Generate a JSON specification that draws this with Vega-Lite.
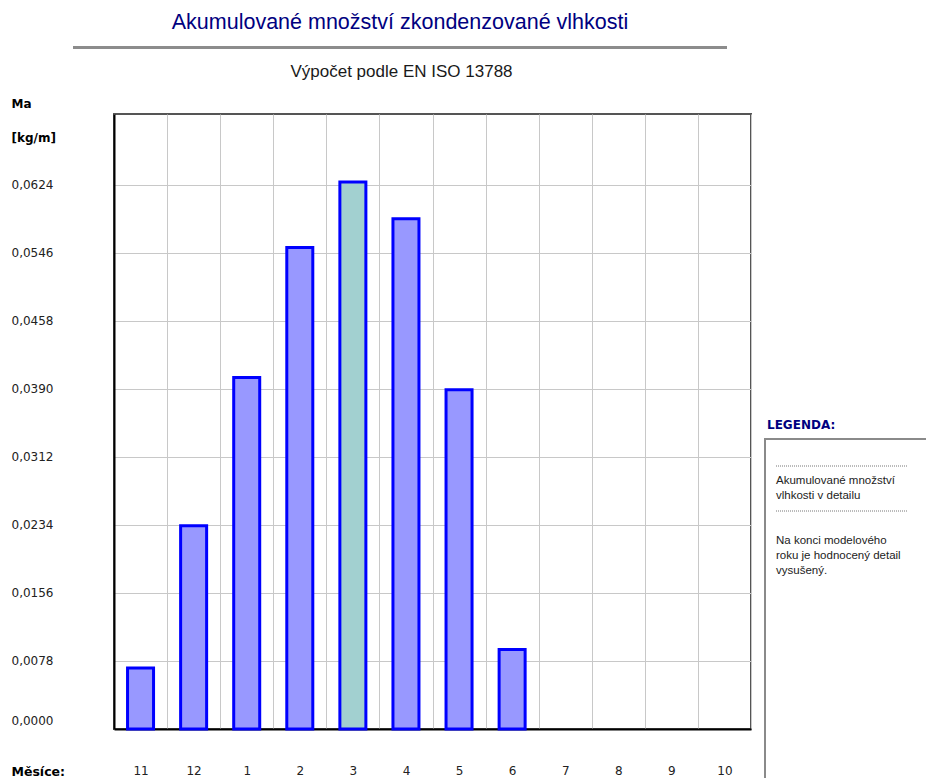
{
  "$schema": "https://vega.github.io/schema/vega-lite/v6.json",
  "background": "white",
  "padding": {"left": 9, "top": 10, "right": 0, "bottom": 0},
  "config": {"view": {"stroke": null}, "font": "Liberation Sans"},
  "datasets": {
    "bars": [
      {"mesic": "11", "ma": 0.0070, "typ": "a"},
      {"mesic": "12", "ma": 0.0233, "typ": "a"},
      {"mesic": "1", "ma": 0.0403, "typ": "a"},
      {"mesic": "2", "ma": 0.0552, "typ": "a"},
      {"mesic": "3", "ma": 0.0627, "typ": "b"},
      {"mesic": "4", "ma": 0.0585, "typ": "a"},
      {"mesic": "5", "ma": 0.0389, "typ": "a"},
      {"mesic": "6", "ma": 0.0091, "typ": "a"},
      {"mesic": "7", "ma": 0, "typ": "a"},
      {"mesic": "8", "ma": 0, "typ": "a"},
      {"mesic": "9", "ma": 0, "typ": "a"},
      {"mesic": "10", "ma": 0, "typ": "a"}
    ],
    "legenda": [
      {"row": 0, "kind": "sep", "text": ""},
      {"row": 1, "kind": "text", "text": "Akumulované množství"},
      {"row": 2, "kind": "text", "text": "vlhkosti v detailu"},
      {"row": 3, "kind": "sep", "text": ""},
      {"row": 5, "kind": "text", "text": "Na konci modelového"},
      {"row": 6, "kind": "text", "text": "roku je hodnocený detail"},
      {"row": 7, "kind": "text", "text": "vysušený."}
    ]
  },
  "spacing": 13,
  "vconcat": [
    {
      "spacing": 0,
      "hconcat": [
        {"width": 64, "height": 1, "data": {"values": []}, "mark": {"type": "point"}, "encoding": {}},
        {
          "width": 652, "height": 1,
          "data": {"values": []},
          "view": {"stroke": "#8c8c8c", "strokeWidth": 2},
          "title": {"text": "Akumulované množství zkondenzované vlhkosti", "anchor": "middle", "frame": "group", "offset": -3, "baseline": "alphabetic", "font": "Liberation Sans", "fontSize": 21.5, "fontWeight": "normal", "color": "#000080"},
          "mark": {"type": "point"},
          "encoding": {}
        }
      ]
    },
    {
      "spacing": 0,
      "hconcat": [
        {"width": 1, "height": 1, "data": {"values": []}, "mark": {"type": "point"}, "encoding": {}},
        {
          "spacing": 12,
          "hconcat": [
            {
              "width": 637, "height": 615,
              "data": {"name": "bars"},
              "view": {"stroke": "#555555", "strokeWidth": 2},
              "title": {"text": "Výpočet podle EN ISO 13788", "anchor": "middle", "frame": "group", "dx": -31, "offset": 3, "baseline": "alphabetic", "font": "Liberation Sans", "fontSize": 17, "fontWeight": "normal", "color": "#1a1a1a"},
              "mark": {"type": "bar", "stroke": "#0000ff", "strokeWidth": 3, "width": {"band": 0.49}},
              "encoding": {
                "x": {
                  "field": "mesic", "type": "ordinal", "sort": null,
                  "scale": {"paddingInner": 0, "paddingOuter": 0},
                  "axis": {
                    "title": "Měsíce:", "titleX": -103, "titleY": 42, "titleAlign": "left", "titleBaseline": "middle", "titleAngle": 0,
                    "titleFont": "DejaVu Sans", "titleFontWeight": "bold", "titleFontSize": 12.5, "titleColor": "#000000",
                    "labelAngle": 0, "labelPadding": 36, "labelFont": "DejaVu Sans", "labelFontSize": 12, "labelColor": "#222222",
                    "tickBand": "extent", "ticks": false, "tickSize": 0,
                    "grid": true, "gridColor": "#c8c8c8", "gridWidth": 1,
                    "domain": true, "domainColor": "#000000", "domainWidth": 2
                  }
                },
                "y": {
                  "field": "ma", "type": "quantitative",
                  "scale": {"domain": [0, 0.0705], "nice": false, "zero": true},
                  "axis": {
                    "title": ["Ma", "[kg/m]"], "titleX": -103, "titleY": -16, "titleAlign": "left", "titleBaseline": "top", "titleAngle": 0, "titleLineHeight": 34,
                    "titleFont": "DejaVu Sans", "titleFontWeight": "bold", "titleFontSize": 12, "titleColor": "#000000",
                    "values": [0, 0.0078, 0.0156, 0.0234, 0.0312, 0.039, 0.0468, 0.0546, 0.0624],
                    "labelExpr": "abs(datum.value - 0.0468) < 1e-6 ? '0,0458' : replace(format(datum.value, '.4f'), '.', ',')",
                    "labelAlign": "left", "labelBaseline": "middle", "labelPadding": 103,
                    "labelOffset": {"condition": {"test": "datum.value === 0", "value": -9}, "value": 0},
                    "labelFont": "DejaVu Sans", "labelFontSize": 12, "labelColor": "#222222",
                    "ticks": false, "tickSize": 0,
                    "grid": true, "gridColor": "#c8c8c8", "gridWidth": 1,
                    "domain": true, "domainColor": "#000000", "domainWidth": 2
                  }
                },
                "fill": {"field": "typ", "type": "nominal", "scale": {"domain": ["a", "b"], "range": ["#9898ff", "#a2d0d0"]}, "legend": null},
                "strokeOpacity": {"condition": {"test": "datum.ma > 0", "value": 1}, "value": 0}
              }
            },
            {
              "spacing": 0,
              "vconcat": [
                {"width": 175, "height": 304, "data": {"values": []}, "mark": {"type": "point"}, "encoding": {}},
                {
                  "width": 175, "height": 350,
                  "data": {"name": "legenda"},
                  "view": {"stroke": "#8a8a8a", "strokeWidth": 2},
                  "title": {"text": "LEGENDA:", "anchor": "start", "frame": "group", "offset": -2, "dx": 2, "baseline": "alphabetic", "font": "DejaVu Sans", "fontSize": 12, "fontWeight": "bold", "color": "#000080"},
                  "layer": [
                    {
                      "transform": [{"filter": "datum.kind === 'sep'"}],
                      "mark": {"type": "rule", "strokeDash": [1, 1], "color": "#777777", "strokeWidth": 1},
                      "encoding": {
                        "x": {"datum": 0, "type": "quantitative", "scale": {"domain": [0, 1.168], "padding": 11, "nice": false, "zero": false}, "axis": null},
                        "x2": {"datum": 1},
                        "y": {"field": "row", "type": "quantitative", "scale": {"domain": [-1.8, 21.53], "reverse": true, "nice": false, "zero": false}, "axis": null}
                      }
                    },
                    {
                      "transform": [{"filter": "datum.kind === 'text'"}],
                      "mark": {"type": "text", "align": "left", "baseline": "middle", "font": "Liberation Sans", "fontSize": 11.5, "color": "#222222"},
                      "encoding": {
                        "x": {"datum": 0, "type": "quantitative"},
                        "y": {"field": "row", "type": "quantitative"},
                        "text": {"field": "text"}
                      }
                    }
                  ]
                }
              ]
            }
          ]
        }
      ]
    }
  ]
}
